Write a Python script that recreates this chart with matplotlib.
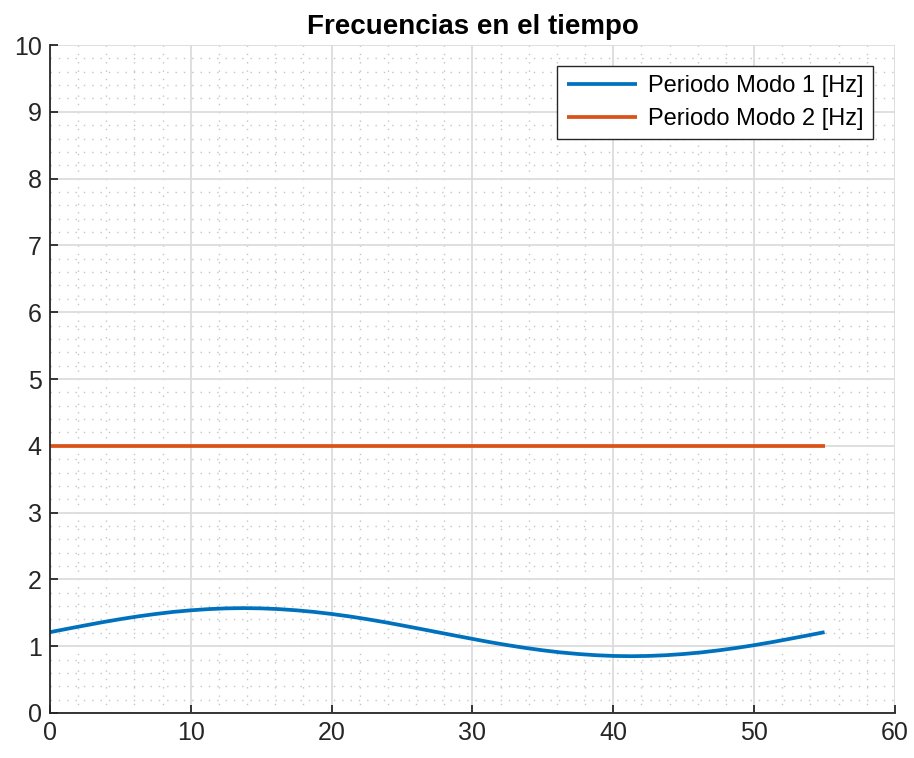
import matplotlib
matplotlib.use("Agg")
import matplotlib.pyplot as plt
from matplotlib.ticker import MultipleLocator

plt.rcParams['font.family'] = ['Liberation Sans', 'DejaVu Sans']

# Time samples [s] and the two modal frequencies
t = [0, 1.25, 2.5, 3.75, 5, 6.25, 7.5, 8.75, 10, 11.25, 12.5, 13.75, 15,
     16.25, 17.5, 18.75, 20, 21.25, 22.5, 23.75, 25, 26.25, 27.5, 28.75,
     30, 31.25, 32.5, 33.75, 35, 36.25, 37.5, 38.75, 40, 41.25, 42.5,
     43.75, 45, 46.25, 47.5, 48.75, 50, 51.25, 52.5, 53.75, 55]
modo1 = [1.210, 1.261, 1.311, 1.360, 1.405, 1.446, 1.482, 1.513, 1.537, 1.555, 1.566, 1.570, 1.566,
         1.555, 1.537, 1.513, 1.482, 1.446, 1.405, 1.360, 1.311, 1.261, 1.210, 1.159,
         1.109, 1.060, 1.015, 0.974, 0.938, 0.907, 0.883, 0.865, 0.854, 0.850, 0.854,
         0.865, 0.883, 0.907, 0.938, 0.974, 1.015, 1.060, 1.109, 1.159, 1.210]
modo2 = [4.0] * len(t)

labels = ['Periodo Modo 1 [Hz]', 'Periodo Modo 2 [Hz]']
colors = ['#0072BD', '#D95319']
title = 'Frecuencias en el tiempo'

fig = plt.figure(figsize=(9.14, 7.58), dpi=100)
ax = fig.add_axes([0.0547, 0.0594, 0.9245, 0.8812])

ax.plot(t, modo1, color=colors[0], lw=2.7, label=labels[0], solid_capstyle='butt')
ax.plot(t, modo2, color=colors[1], lw=2.7, label=labels[1], solid_capstyle='butt')

ax.set_xlim(0, 60)
ax.set_ylim(0, 10)
ax.xaxis.set_major_locator(MultipleLocator(10))
ax.xaxis.set_minor_locator(MultipleLocator(2))
ax.yaxis.set_major_locator(MultipleLocator(1))
ax.yaxis.set_minor_locator(MultipleLocator(0.2))

ax.grid(True, which='major', color='#dcdcdc', lw=1.3, ls='-')
ax.grid(True, which='minor', color='#c4c4c4', lw=1.0, ls=(0, (1, 5)))
ax.set_axisbelow(True)

for side in ('top', 'right'):
    ax.spines[side].set_visible(False)
for side in ('left', 'bottom'):
    ax.spines[side].set_color('#262626')
    ax.spines[side].set_linewidth(1.3)

ax.tick_params(which='major', direction='in', length=6, width=1.3,
               color='#262626', labelsize=18, labelcolor='#262626', pad=6)
ax.tick_params(which='minor', length=0)

ax.set_title(title, fontsize=20, fontweight='bold', pad=8)

leg = ax.legend(loc='upper right', bbox_to_anchor=(0.974, 0.969), borderaxespad=0,
                fontsize=17, frameon=True, fancybox=False, edgecolor='#262626',
                framealpha=1.0, handlelength=3.0, borderpad=0.4,
                labelspacing=0.45, handletextpad=0.45)
leg.get_frame().set_linewidth(1.0)

fig.savefig('out.png', dpi=100)
